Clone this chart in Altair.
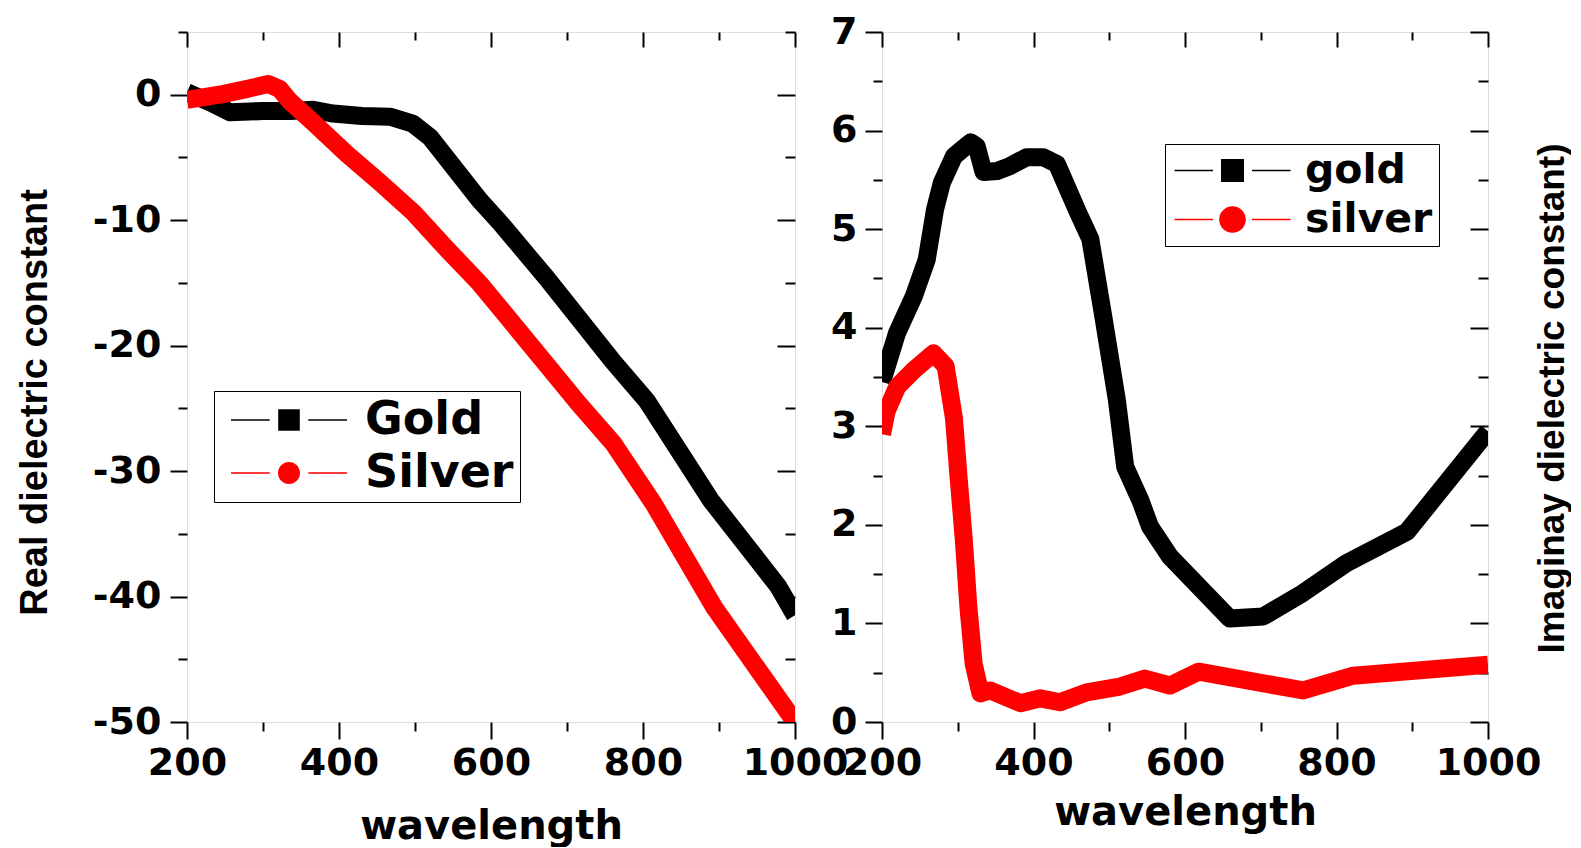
import altair as alt
import pandas as pd

# ---------------- data ----------------
# Left panel: real part of dielectric constant
gold_real_wl = [200, 230, 257, 300, 336, 366, 392, 430, 467, 497, 520, 585, 612, 673, 761, 805, 889, 978, 1000]
gold_real = [0.2, -0.6, -1.4, -1.3, -1.3, -1.2, -1.5, -1.7, -1.75, -2.3, -3.4, -8.4, -10.2, -14.6, -21.3, -24.4, -32.3, -39.2, -41.5]
silver_real_wl = [200, 247, 278, 307, 322, 335, 366, 410, 454, 498, 542, 586, 673, 715, 761, 814, 893, 1000]
silver_real = [-0.4, 0.05, 0.45, 0.85, 0.45, -0.5, -2.2, -4.7, -7.0, -9.4, -12.3, -15.1, -21.5, -24.6, -27.8, -32.6, -40.8, -50.0]

# Right panel: imaginary part of dielectric constant
gold_imag_wl = [200, 220, 242, 259, 270, 279, 295, 306, 317, 325, 334, 352, 369, 391, 413, 431, 457, 475, 492, 510,
                521, 541, 554, 580, 659, 703, 752, 813, 893, 1000]
gold_imag = [3.45, 3.95, 4.32, 4.69, 5.2, 5.47, 5.74, 5.81, 5.88, 5.84, 5.58, 5.59, 5.64, 5.73, 5.73, 5.66, 5.2, 4.9, 4.12, 3.27,
             2.59, 2.25, 1.98, 1.68, 1.05, 1.07, 1.29, 1.61, 1.93, 2.95]
silver_imag_wl = [200, 206, 220, 242, 268, 284, 295, 301, 308, 314, 321, 330, 343, 383, 409, 435, 470, 514, 547, 580,
                  618, 756, 822, 1000]
silver_imag = [2.92, 3.15, 3.4, 3.57, 3.74, 3.61, 3.08, 2.49, 1.85, 1.17, 0.59, 0.29, 0.32, 0.19, 0.24, 0.20, 0.30, 0.36,
               0.44, 0.37, 0.51, 0.32, 0.47, 0.58]

left_names = ["Gold", "Silver"]
right_names = ["gold", "silver"]
series_colors = ["#000000", "#ff0000"]

x_ticks = [200, 300, 400, 500, 600, 700, 800, 900, 1000]
left_y_ticks = [-50, -45, -40, -35, -30, -25, -20, -15, -10, -5, 0, 5]
right_y_ticks = [0, 0.5, 1, 1.5, 2, 2.5, 3, 3.5, 4, 4.5, 5, 5.5, 6, 6.5, 7]

df_left = pd.concat([
    pd.DataFrame({"wavelength": gold_real_wl, "value": gold_real, "metal": left_names[0]}),
    pd.DataFrame({"wavelength": silver_real_wl, "value": silver_real, "metal": left_names[1]}),
], ignore_index=True)
df_right = pd.concat([
    pd.DataFrame({"wavelength": gold_imag_wl, "value": gold_imag, "metal": right_names[0]}),
    pd.DataFrame({"wavelength": silver_imag_wl, "value": silver_imag, "metal": right_names[1]}),
], ignore_index=True)

# ---------------- styling ----------------
TICK_FONT = "DejaVu Sans"
NARROW = "Liberation Sans"
H = 690
LW = 608
RW = 606

common_axis = dict(grid=False, domain=False, tickColor="black", tickWidth=2,
                   labelFont=TICK_FONT, labelFontWeight="bold", labelFontSize=38, labelColor="black",
                   labelOverlap=False, labelFlush=False, titleColor="black", titleFontWeight="bold")


def bottom_axis(title_y):
    return alt.Axis(orient="bottom", values=x_ticks,
                    labelExpr="datum.value % 200 === 0 ? '' + datum.value : ''",
                    tickSize=alt.ExprRef("datum.value % 200 === 0 ? 17 : 9"),
                    labelPadding=5, title="wavelength", titleFont=TICK_FONT, titleFontSize=40,
                    titleY=title_y, titleBaseline="alphabetic", **common_axis)


def top_axis():
    return alt.Axis(orient="top", values=x_ticks, labels=False, title=None,
                    tickSize=alt.ExprRef("datum.value % 200 === 0 ? -15 : -8"), **common_axis)


def left_axis(values, test, title=None, title_x=0, title_y=0, pad=8):
    kw = dict(orient="left", values=values,
              labelExpr=f"{test} ? '' + datum.value : ''",
              tickSize=alt.ExprRef(f"{test} ? 17 : 9"), labelPadding=pad)
    if title:
        kw.update(title=title, titleFont=NARROW, titleFontSize=38, titleAngle=270,
                  titleX=title_x, titleY=title_y, titleBaseline="middle", titleAlign="center")
    else:
        kw.update(title=None)
    return alt.Axis(**kw, **common_axis)


def right_axis(values, test, title=None, title_x=0, title_y=0):
    kw = dict(orient="right", values=values, labels=False,
              tickSize=alt.ExprRef(f"{test} ? -18 : -10"))
    if title:
        kw.update(title=title, titleFont=NARROW, titleFontSize=37, titleAngle=270,
                  titleX=title_x, titleY=title_y, titleBaseline="middle", titleAlign="center")
    else:
        kw.update(title=None)
    return alt.Axis(**kw, **common_axis)


def legend_paths(half_sq, gap, half_len, circ_r, lw=0.07):
    lines = (f"M{-half_len},{-lw}L{-gap},{-lw}L{-gap},{lw}L{-half_len},{lw}Z"
             f"M{gap},{-lw}L{half_len},{-lw}L{half_len},{lw}L{gap},{lw}Z")
    square = f"M{-half_sq},{-half_sq}L{half_sq},{-half_sq}L{half_sq},{half_sq}L{-half_sq},{half_sq}Z"
    circle = f"M{-circ_r},0A{circ_r},{circ_r},0,1,0,{circ_r},0A{circ_r},{circ_r},0,1,0,{-circ_r},0Z"
    return [lines + square, lines + circle]


def make_legend(lx, ly, font_size, sym_off, lab_off):
    return alt.Legend(title=None, orient="none", legendX=lx, legendY=ly, direction="vertical",
                      labelFont=TICK_FONT, labelFontWeight="bold", labelFontSize=font_size,
                      labelColor="black", labelLimit=500, symbolSize=400, symbolOffset=sym_off,
                      labelOffset=lab_off, padding=6, rowPadding=7, strokeColor="black",
                      symbolStrokeWidth=0, symbolOpacity=1)


def panel(df, names, width, ydom, yticks, ytest, ytitle_left, ytitle_right, legend, shapes, xtitle_y,
          ltx, lty, rtx, rty, ypad):
    xs = alt.Scale(domain=[200, 1000], nice=False, zero=False)
    ys = alt.Scale(domain=ydom, nice=False, zero=False)
    base = alt.Chart(df)
    lines = base.mark_line(strokeWidth=18, clip=True, strokeJoin="round").encode(
        x=alt.X("wavelength:Q", scale=xs, axis=bottom_axis(xtitle_y)),
        y=alt.Y("value:Q", scale=ys, axis=left_axis(yticks, ytest, ytitle_left, ltx, lty, ypad)),
        stroke=alt.Stroke("metal:N",
                          scale=alt.Scale(domain=names[::-1], range=series_colors[::-1]),
                          legend=None),
    )
    frame = base.mark_line(opacity=0, clip=True).encode(
        x=alt.X("wavelength:Q", scale=xs, axis=top_axis()),
        y=alt.Y("value:Q", scale=ys, axis=right_axis(yticks, ytest, ytitle_right, rtx, rty)),
    )
    key = base.mark_point(filled=True, size=0).encode(
        fill=alt.Fill("metal:N", scale=alt.Scale(domain=names, range=series_colors), legend=legend),
        shape=alt.Shape("metal:N", scale=alt.Scale(domain=names, range=shapes), legend=legend),
    )
    return alt.layer(lines, frame, key).resolve_axis(x="independent", y="independent").properties(
        width=width, height=H)


left = panel(df_left, left_names, LW, [-50, 5], left_y_ticks, "datum.value % 10 === 0",
             "Real dielectric constant", None,
             make_legend(27, 359, 46, 46, 53), legend_paths(1.08, 1.93, 5.8, 1.1),
             116, -152, 370, 0, 0, 9)
right = panel(df_right, right_names, RW, [0, 7], right_y_ticks, "datum.value % 1 === 0",
              None, "Imaginay dielectric constant)",
              make_legend(283, 112, 41, 41, 52), legend_paths(1.15, 1.95, 5.8, 1.33),
              102, 0, 0, 64, 366, 8)

chart = alt.hconcat(left, right, spacing=87, bounds="flush").resolve_scale(
    x="independent", y="independent", stroke="independent", fill="independent", shape="independent"
).properties(
    padding={"left": 7, "top": 4, "right": 0, "bottom": 0}
).configure_view(stroke="black", strokeWidth=2.5).configure(background="white")

chart.save("out.html", embed_options={"renderer": "svg", "actions": False})
